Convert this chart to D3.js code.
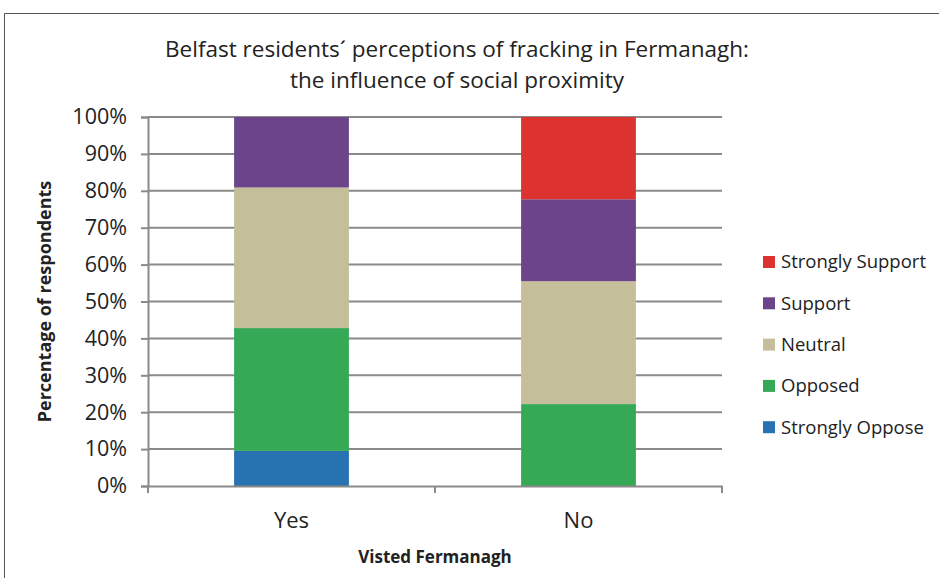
<!DOCTYPE html>
<html>
<head>
<meta charset="utf-8">
<script src="https://cdn.jsdelivr.net/npm/d3@7"></script>
<style>
  body { margin: 0; background: #fff; }
  text { font-family: "Open Sans", sans-serif; fill: #222; }
</style>
</head>
<body>
<div id="chart"></div>
<script>
var categories = ["Yes", "No"];
var seriesNames = ["Strongly Oppose", "Opposed", "Neutral", "Support", "Strongly Support"];
var stronglyOppose = [9.5, 0];
var opposed = [33.3, 22.2];
var neutral = [38.1, 33.3];
var support = [19.1, 22.2];
var stronglySupport = [0, 22.3];
var tickValues = [0, 10, 20, 30, 40, 50, 60, 70, 80, 90, 100];
var colors = ["#2772b1", "#36a957", "#c4be9a", "#6b4489", "#dd3330"];

var width = 939, height = 578;
var margin = {left: 148, right: 217, top: 117, bottom: 92};

var svg = d3.select("#chart").append("svg")
    .attr("width", width)
    .attr("height", height);

// outer frame
svg.append("path")
   .attr("d", "M4.5," + height + "V13.5H" + width)
   .attr("fill", "none")
   .attr("stroke", "#555")
   .attr("stroke-width", 1);

var x = d3.scaleBand()
    .domain(categories)
    .range([margin.left, width - margin.right])
    .paddingInner(0.6)
    .paddingOuter(0.3);

var y = d3.scaleLinear()
    .domain([0, 100])
    .range([height - margin.bottom, margin.top]);

var rows = categories.map(function(c, i) {
    return {
        cat: c,
        "Strongly Oppose": stronglyOppose[i],
        "Opposed": opposed[i],
        "Neutral": neutral[i],
        "Support": support[i],
        "Strongly Support": stronglySupport[i]
    };
});
var stacked = d3.stack().keys(seriesNames)(rows);

// gridlines
svg.append("g")
   .selectAll("line")
   .data(tickValues.slice(1))
   .enter().append("line")
   .attr("x1", margin.left)
   .attr("x2", width - margin.right)
   .attr("y1", function(d) { return y(d); })
   .attr("y2", function(d) { return y(d); })
   .attr("stroke", "#8a8a8a")
   .attr("stroke-width", 2);

// bars
svg.append("g").selectAll("g")
   .data(stacked)
   .enter().append("g")
   .attr("fill", function(d, i) { return colors[i]; })
   .selectAll("rect")
   .data(function(d) { return d; })
   .enter().append("rect")
   .attr("x", function(d) { return x(d.data.cat); })
   .attr("width", x.bandwidth())
   .attr("y", function(d) { return y(d[1]); })
   .attr("height", function(d) { return y(d[0]) - y(d[1]); });

// y axis
var yAxis = svg.append("g")
   .attr("transform", "translate(" + margin.left + ",0)")
   .call(d3.axisLeft(y).tickValues(tickValues).tickSize(7).tickPadding(14)
        .tickFormat(function(d) { return d + "%"; }));
yAxis.selectAll("path, line").attr("stroke", "#8a8a8a").attr("stroke-width", 2);
yAxis.selectAll("text").style("font-size", "21.5px").attr("fill", "#222");

// x axis
var xAxis = svg.append("g")
   .attr("transform", "translate(0," + y(0) + ")")
   .call(d3.axisBottom(x).tickSize(0).tickPadding(26));
xAxis.select("path").attr("stroke", "#8a8a8a").attr("stroke-width", 2);
xAxis.selectAll("text").style("font-size", "22px").attr("fill", "#222");
var xEdges = [margin.left, (x("Yes") + x.bandwidth() + x("No")) / 2, width - margin.right];
xAxis.selectAll(".edge")
   .data(xEdges)
   .enter().append("line")
   .attr("x1", function(d) { return d; })
   .attr("x2", function(d) { return d; })
   .attr("y1", 0).attr("y2", 7)
   .attr("stroke", "#8a8a8a").attr("stroke-width", 2);

// title
var title = svg.append("text")
   .attr("text-anchor", "middle")
   .attr("x", 457)
   .style("font-size", "22.5px");
title.append("tspan").attr("x", 457).attr("y", 57)
   .text("Belfast residents\u00b4 perceptions of fracking in Fermanagh:");
title.append("tspan").attr("x", 457).attr("y", 88)
   .text("the influence of social proximity");

// axis titles
svg.append("text")
   .attr("transform", "translate(51," + ((y(0) + y(100)) / 2) + ") rotate(-90)")
   .attr("text-anchor", "middle")
   .style("font-size", "18px")
   .style("font-weight", "bold")
   .text("Percentage of respondents");

svg.append("text")
   .attr("x", xEdges[1])
   .attr("y", 563)
   .attr("text-anchor", "middle")
   .style("font-size", "17px")
   .style("font-weight", "bold")
   .text("Visted Fermanagh");

// legend
var legendNames = seriesNames.slice().reverse();
var legendColors = colors.slice().reverse();
var legend = svg.append("g").selectAll("g")
   .data(legendNames)
   .enter().append("g")
   .attr("transform", function(d, i) { return "translate(763," + (262 + i * 41.3) + ")"; });
legend.append("rect")
   .attr("x", 0).attr("y", -6)
   .attr("width", 12).attr("height", 12)
   .attr("fill", function(d, i) { return legendColors[i]; });
legend.append("text")
   .attr("x", 18)
   .attr("dy", "0.35em")
   .style("font-size", "18.5px")
   .text(function(d) { return d; });
</script>
</body>
</html>
